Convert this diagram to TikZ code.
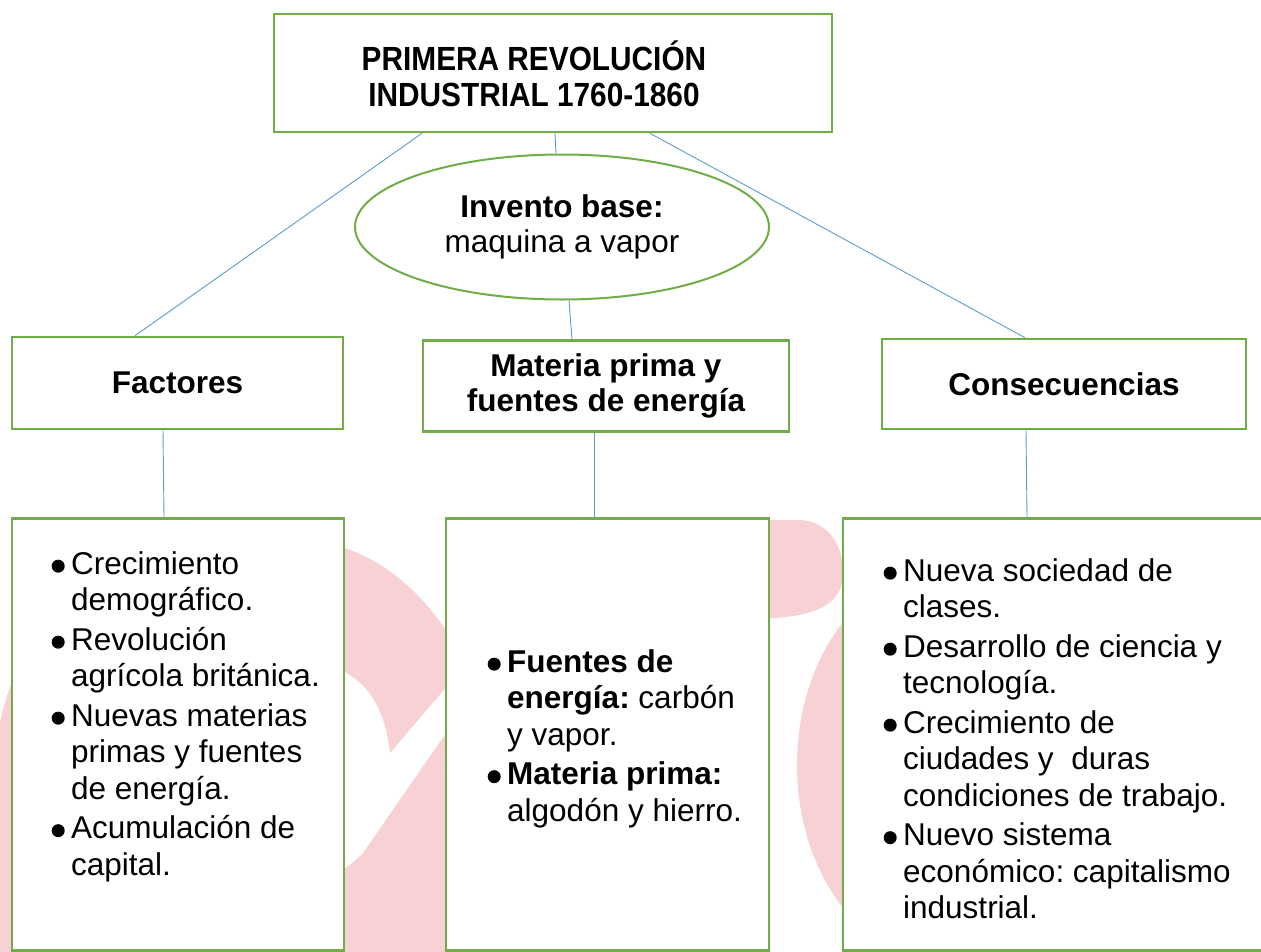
\documentclass[tikz,border=0pt]{standalone}
\usepackage{fontspec}
\setmainfont{Liberation Sans}
\newfontfamily\titlefam{Liberation Sans}[FakeStretch=0.89]
\usepackage{tikz}
\usetikzlibrary{shapes.geometric}
\usepackage{xcolor}
\definecolor{boxgreen}{RGB}{112,173,71}
\definecolor{linkblue}{RGB}{91,155,213}
\definecolor{wmpink}{RGB}{247,209,211}
\newcommand{\titlefont}{\titlefam\fontsize{33.5}{36}\selectfont\bfseries}
\newcommand{\boxhead}{\fontsize{31.5}{35}\selectfont\bfseries}
\newcommand{\boxbody}{\fontsize{31.5}{36.5}\selectfont}
\newcommand{\itemdot}{\tikz[baseline=-8pt]\fill (0,0) circle[radius=6.5pt];}
\frenchspacing

\begin{document}
\begin{tikzpicture}[x=1pt,y=-1pt,
  greenbox/.style={draw=boxgreen,line width=2.6pt,fill=white,inner sep=0pt,align=center},
  headbox/.style={greenbox,font=\boxhead},
  listbox/.style={greenbox,minimum height=431.5pt},
  items/.style={anchor=north west,inner sep=0pt,font=\boxbody},
  link/.style={draw=linkblue,line width=0.9pt},
  wmark/.style={fill=wmpink}]
 \useasboundingbox (0,0) rectangle (1261,951);
 \clip (0,0) rectangle (1261,951);
 \fill[wmark] (330,544) .. controls (380,555) and (425,592) .. (460,652) -- (460,671)
   -- (390,753) .. controls (385,710) and (370,680) .. (330,665) -- cycle;
 \fill[wmark] (460,713) -- (363,853) .. controls (355,862) and (345,868) .. (330,878)
   -- (330,960) -- (460,960) -- cycle;
 \fill[wmark] (-5,745) .. controls (2,710) and (8,690) .. (16,672) -- (16,960) -- (-5,960) -- cycle;
 \fill[wmark] (760,520) -- (800,520) .. controls (835,522) and (845,555) .. (843,578)
   .. controls (840,605) and (815,617) .. (760,619) -- cycle;
 \fill[wmark] (950,765) ellipse [x radius=153, y radius=200];

 \node[greenbox,minimum width=558pt,minimum height=118pt] (title) at (553,73) {};
 \node[align=center,font=\titlefont,inner sep=0pt] (titletext) at (534,74)
   {PRIMERA REVOLUCIÓN\\INDUSTRIAL 1760-1860};
 \node[greenbox,ellipse,line width=2pt,minimum width=414pt,minimum height=145pt,
   font=\fontsize{31.5}{35}\selectfont] (invento) at (562,227)
   {\textbf{Invento base:}\\maquina a vapor};
 \node[headbox,minimum width=331pt,minimum height=92pt] (factores) at (177.5,383) {Factores};
 \node[headbox,minimum width=366pt,minimum height=91pt] (materia) at (606,386)
   {Materia prima y\\fuentes de energía};
 \node[headbox,minimum width=364pt,minimum height=90pt] (consec) at (1064,384) {Consecuencias};
 \node[listbox,minimum width=332pt] (factlist) at (178,734.5) {};
 \node[listbox,minimum width=323pt] (materlist) at (607.5,734.5) {};
 \node[listbox,minimum width=432pt] (consclist) at (1059,734.5) {};

 \node[items] (factitems) at (51.5,548.4) {\begin{tabular}{@{}c@{\hspace{6.5pt}}l@{}}
   \itemdot & Crecimiento\\
            & demográfico.\\[3pt]
   \itemdot & Revolución\\
            & agrícola británica.\\[3pt]
   \itemdot & Nuevas materias\\
            & primas y fuentes\\
            & de energía.\\[3pt]
   \itemdot & Acumulación de\\
            & capital.
 \end{tabular}};
 \node[items] (materitems) at (487.5,646.4) {\begin{tabular}{@{}c@{\hspace{6.5pt}}l@{}}
   \itemdot & \textbf{Fuentes de}\\
            & \textbf{energía:} carbón\\
            & y vapor.\\[3pt]
   \itemdot & \textbf{Materia prima:}\\
            & algodón y hierro.
 \end{tabular}};
 \node[items] (conscitems) at (883.5,555.4) {\begin{tabular}{@{}c@{\hspace{6.5pt}}l@{}}
   \itemdot & Nueva sociedad de\\
            & clases.\\[3pt]
   \itemdot & Desarrollo de ciencia y\\
            & tecnología.\\[3pt]
   \itemdot & Crecimiento de\\
            & ciudades y~ duras\\
            & condiciones de trabajo.\\[3pt]
   \itemdot & Nuevo sistema\\
            & económico: capitalismo\\
            & industrial.
 \end{tabular}};

 \draw[link] ([xshift=-131pt]title.south) -- ([xshift=-42.5pt]factores.north);
 \draw[link] ([xshift=2pt]title.south) -- ([xshift=-6pt]invento.north);
 \draw[link] ([xshift=97pt]title.south) -- ([xshift=-39pt]consec.north);
 \draw[link] ([xshift=7pt]invento.south) -- ([xshift=-34pt]materia.north);
 \draw[link] ([xshift=-14.5pt]factores.south) -- ([xshift=-14pt]factlist.north);
 \draw[link] ([xshift=-12pt]materia.south) -- ([xshift=-13.5pt]materlist.north);
 \draw[link] ([xshift=-38pt]consec.south) -- ([xshift=-32pt]consclist.north);
\end{tikzpicture}
\end{document}
